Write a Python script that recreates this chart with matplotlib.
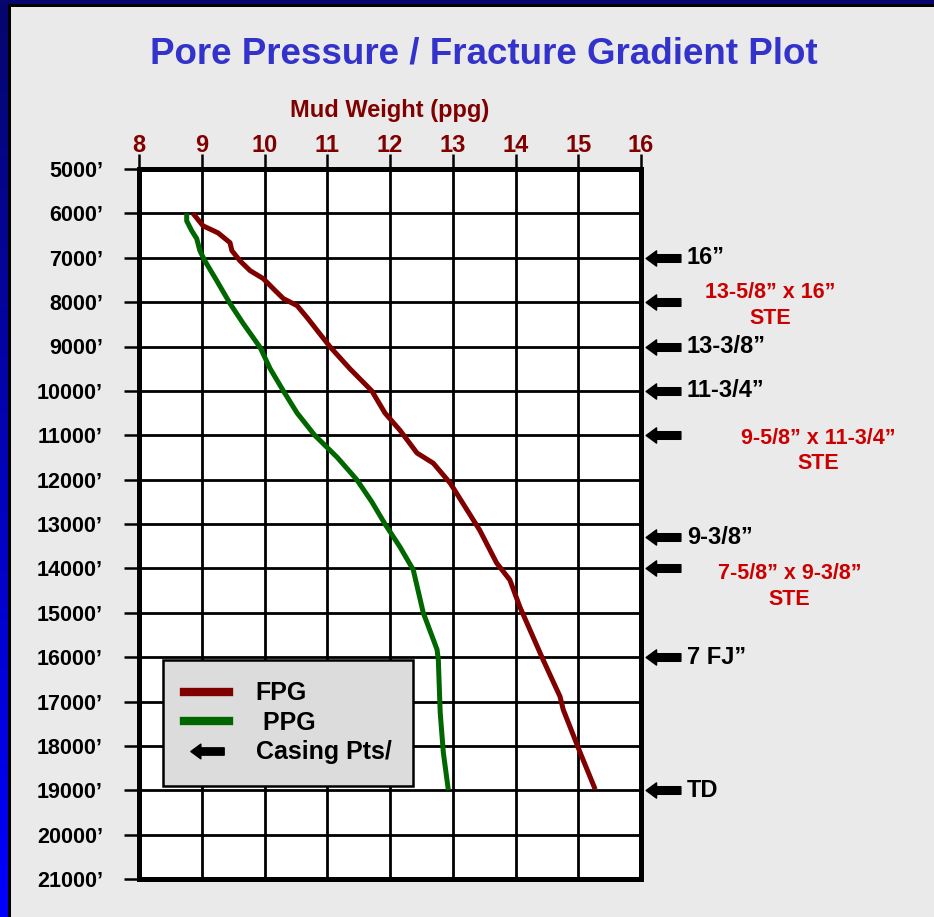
import numpy as np
import matplotlib
matplotlib.use("Agg")
import matplotlib.pyplot as plt
from matplotlib.path import Path
from matplotlib.lines import Line2D
from matplotlib.patches import Rectangle

plt.rcParams['font.family'] = ['Liberation Sans', 'DejaVu Sans']
plt.rcParams['font.weight'] = 'bold'

# Fracture gradient (ppg) vs depth (ft)
fpg_depth = [6000, 6280, 6440, 6660, 6840, 7070, 7290, 7470, 7740, 7920, 8080, 8350,
             9000, 9500, 10000, 10500, 10890, 11400, 11630, 12080, 13140, 13880,
             14260, 14870, 16060, 16890, 17180, 18150, 18980]
fpg_ppg = [8.86, 9.02, 9.26, 9.45, 9.48, 9.61, 9.77, 9.98, 10.17, 10.30, 10.52, 10.68,
           11.04, 11.36, 11.71, 11.92, 12.16, 12.43, 12.69, 12.96, 13.43, 13.70,
           13.91, 14.07, 14.44, 14.71, 14.76, 15.03, 15.27]

# Pore pressure (ppg) vs depth (ft)
ppg_depth = [6000, 6170, 6390, 6570, 6840, 7070, 7520, 8030, 8480, 9020, 9500, 10000,
             10500, 11000, 11500, 12000, 12500, 13000, 13520, 14030, 15000, 15830,
             16060, 17250, 18150, 19000]
ppg_ppg = [8.76, 8.76, 8.84, 8.92, 8.97, 9.05, 9.24, 9.45, 9.66, 9.93, 10.09, 10.30,
           10.52, 10.80, 11.16, 11.47, 11.71, 11.92, 12.16, 12.37, 12.53, 12.75,
           12.77, 12.80, 12.85, 12.93]

# casing points
casing_depths = [7000, 8000, 9000, 10000, 11000, 13300, 14000, 16000, 19000]
casing_labels = ['16”', '13-5/8” x 16”\nSTE', '13-3/8”', '11-3/4”',
                 '9-5/8” x 11-3/4”\nSTE', '9-3/8”', '7-5/8” x 9-3/8”\nSTE',
                 '7 FJ”', 'TD']
casing_ste = [False, True, False, False, True, False, True, False, False]

mw_ticks = list(range(8, 17))
depth_ticks = list(range(5000, 21001, 1000))
depth_labels = [f"{d}’" for d in depth_ticks]

W, H = 934, 917
fig = plt.figure(figsize=(W / 100, H / 100), dpi=100, facecolor='#EAEAEA')

# slide border: navy top band, navy->blue left band, thin black inner line
grad = np.linspace(0, 1, 256).reshape(-1, 1)
bax = fig.add_axes([0, 0, 7.5 / W, 1])
bax.imshow(grad, aspect='auto', cmap=matplotlib.colors.LinearSegmentedColormap.from_list(
    'edge', ['#06066E', '#0000FF']), extent=[0, 1, 0, 1])
bax.axis('off')
fig.add_artist(Rectangle((0, 1 - 4 / H), 1, 4 / H, transform=fig.transFigure,
                         color='#06066E', lw=0))
fig.add_artist(Rectangle((7.5 / W, 1 - 6.5 / H), 1, 2.5 / H, transform=fig.transFigure,
                         color='black', lw=0))
fig.add_artist(Rectangle((7.5 / W, 0), 3.5 / W, 1 - 4 / H, transform=fig.transFigure,
                         color='black', lw=0))

fig.text(484 / W, 1 - 54 / H, 'Pore Pressure / Fracture Gradient Plot', ha='center',
         va='center', fontsize=26.5, color='#3333CC', fontweight='bold')

ax = fig.add_axes([139 / W, 1 - 879 / H, 502 / W, 710 / H])
ax.set_facecolor('white')
ax.plot(fpg_ppg, fpg_depth, color='#800000', lw=3.6, solid_capstyle='butt', zorder=3)
ax.plot(ppg_ppg, ppg_depth, color='#006600', lw=3.6, solid_capstyle='butt', zorder=3)

ax.set_xlim(8, 16)
ax.set_ylim(21000, 5000)
ax.xaxis.tick_top()
ax.xaxis.set_label_position('top')
ax.set_xticks(mw_ticks)
ax.set_xticklabels([str(t) for t in mw_ticks], color='#800000', fontsize=17,
                   fontweight='bold')
ax.set_yticks(depth_ticks)
ax.set_yticklabels(depth_labels, fontsize=15.5, fontweight='bold')
ax.set_xlabel('Mud Weight (ppg)', color='#800000', fontsize=17, fontweight='bold',
              labelpad=12)
ax.tick_params(axis='x', direction='out', length=11, width=1.8, pad=-2)
ax.tick_params(axis='y', direction='out', length=11, width=1.8, pad=15)
ax.grid(True, color='black', lw=2)
for s in ax.spines.values():
    s.set_linewidth(3.6)
    s.set_color('black')
    s.set_zorder(4)

# left-pointing arrow marker
arrow = Path([(-1, 0), (-0.4, 0.44), (-0.4, 0.22), (1, 0.22), (1, -0.22), (-0.4, -0.22),
              (-0.4, -0.44), (-1, 0)],
             [Path.MOVETO] + [Path.LINETO] * 6 + [Path.CLOSEPOLY])

ax.plot([16.35] * len(casing_depths), casing_depths, ls='none', marker=arrow, ms=25,
        color='black', clip_on=False)

ste_pos = {1: (18.06, 76), 4: (18.83, 355), 6: (18.37, 408)}
for i, (d, lab) in enumerate(zip(casing_depths, casing_labels)):
    if casing_ste[i]:
        x, off = ste_pos[i]
        ax.text(x, d + off, lab, ha='center', va='center', color='#CC0000',
                fontsize=15.5, fontweight='bold', linespacing=1.3, clip_on=False)
    else:
        ax.text(16.73, d, lab, ha='left', va='center', color='black', fontsize=17,
                fontweight='bold', clip_on=False)

handles = [Line2D([], [], color='#800000', lw=6),
           Line2D([], [], color='#006600', lw=6),
           Line2D([], [], ls='none', marker=arrow, ms=24, color='black')]
leg = ax.legend(handles, ['FPG', ' PPG', 'Casing Pts/'], loc='upper left',
                bbox_to_anchor=((163 - 139) / 502, (879 - 660) / 710),
                borderaxespad=0, fancybox=False, framealpha=1, facecolor='#DCDCDC',
                edgecolor='black', prop={'size': 18, 'weight': 'bold'},
                handlelength=1.8, handletextpad=1.05, labelspacing=0.22,
                borderpad=0.85, numpoints=1)
leg.get_frame().set_linewidth(1.8)
leg.set_zorder(5)

fig.savefig('out.png', dpi=100, facecolor=fig.get_facecolor())
